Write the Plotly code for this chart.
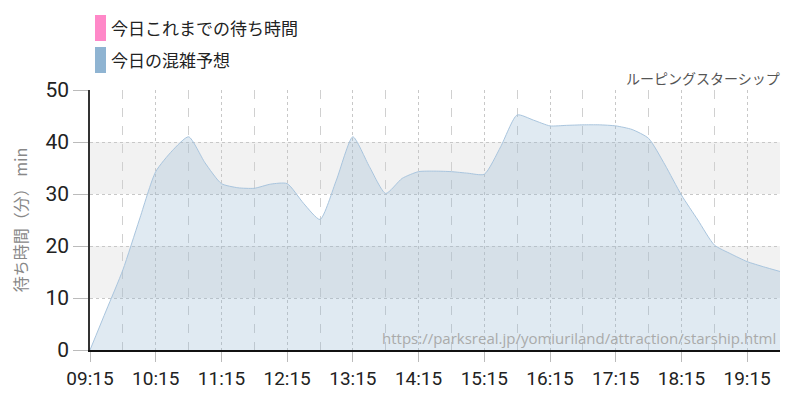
import plotly.graph_objects as go

times = ["09:15","09:30","09:45","10:00","10:15","10:30","10:45","11:00","11:15","11:30","11:45","12:00",
         "12:15","12:30","12:45","13:00","13:15","13:30","13:45","14:00","14:15","14:30","14:45","15:00",
         "15:15","15:30","15:45","16:00","16:15","16:30","16:45","17:00","17:15","17:30","17:45","18:00",
         "18:15","18:30","18:45","19:00","19:15","19:30","19:45"]
forecast = [0, 7.7, 15.4, 25, 34.3, 38.3, 41, 36.0, 32, 31.2, 31.1, 31.9,
            32, 28.2, 25.1, 32.7, 41, 35.3, 30.1, 33, 34.3, 34.4, 34.3, 34,
            33.8, 39.1, 45.2, 44.2, 43.1, 43.2, 43.3, 43.3, 43.1, 42.4, 40.7, 35.6,
            29.8, 25, 20.2, 18.5, 17, 16, 15.1]
tick_labels = ["09:15","10:15","11:15","12:15","13:15","14:15","15:15","16:15","17:15","18:15","19:15"]
legend_labels = ["今日これまでの待ち時間", "今日の混雑予想"]
legend_colors = ["#ff88c8", "#8fb4d2"]
title_text = "ルーピングスターシップ"
url_text = "https://parksreal.jp/yomiuriland/attraction/starship.html"
y_title = "待ち時間（分） min"

day = "2024-01-01 "
xs = [day + t for t in times]

fig = go.Figure()
fig.add_trace(go.Scatter(
    x=xs, y=forecast, mode="lines", line=dict(color="#a9c5de", width=1, shape="spline", smoothing=0.6),
    fill="tozeroy", fillcolor="rgba(143,180,210,0.28)", showlegend=False, hoverinfo="skip"))

font_num = "Roboto, sans-serif"
font_jp = "Noto Sans CJK JP, sans-serif"

# the page body has an 8px margin; plot area on the page is x 90..780, y 90..350
fig.update_layout(
    width=800, height=400,
    margin=dict(l=82, r=28, t=82, b=58, autoexpand=False),
    paper_bgcolor="white", plot_bgcolor="white",
    showlegend=False,
    xaxis=dict(
        type="date", range=[day + "09:15", day + "19:45"],
        tickvals=[day + t for t in tick_labels], ticktext=tick_labels,
        tickfont=dict(family=font_num, size=19, color="#222"),
        ticks="outside", ticklen=10, tickcolor="#bbb", tickwidth=1,
        showgrid=True, gridcolor="#c8c8c8", griddash="dot", gridwidth=1,
        minor=dict(dtick=60 * 60 * 1000, tick0=day + "09:45", showgrid=True,
                   gridcolor="#d0d0d0", griddash="dash", gridwidth=1, ticks=""),
        showline=True, linecolor="#111", linewidth=2, zeroline=False, automargin=False,
    ),
    yaxis=dict(
        range=[0, 50], dtick=10, tick0=0,
        tickfont=dict(family=font_num, size=21, color="#222"),
        ticks="outside", ticklen=15, tickcolor="#bbb", tickwidth=1,
        showgrid=True, gridcolor="#c8c8c8", griddash="dot", gridwidth=1,
        showline=True, linecolor="#333", linewidth=1.5, zeroline=False, automargin=False,
        title=dict(text=y_title, font=dict(family=font_jp, size=16, color="#888"), standoff=14),
    ),
)

def px_x(X):
    return (X - 90) / 690

def px_y(Y):
    return (350 - Y) / 260

for lo, hi in [(10, 20), (30, 40)]:
    fig.add_shape(type="rect", xref="paper", yref="y", x0=0, x1=1, y0=lo, y1=hi,
                  fillcolor="#f2f2f2", line=dict(width=0), layer="below")

for i, (lab, col) in enumerate(zip(legend_labels, legend_colors)):
    top = 15 + i * 32
    fig.add_shape(type="rect", xref="paper", yref="paper",
                  x0=px_x(95), x1=px_x(106), y0=px_y(top + 26), y1=px_y(top),
                  fillcolor=col, line=dict(width=0))
    fig.add_annotation(text=lab, xref="paper", yref="paper", x=px_x(109),
                       y=px_y(top + 13), xanchor="left", yanchor="middle",
                       showarrow=False, font=dict(family=font_jp, size=17, color="#222"))

fig.add_annotation(text=title_text, xref="paper", yref="paper", x=px_x(782), y=px_y(78),
                   xanchor="right", yanchor="middle", showarrow=False,
                   font=dict(family=font_jp, size=14, color="#555"))
fig.add_annotation(text=url_text, xref="paper", yref="paper", x=px_x(778), y=px_y(338),
                   xanchor="right", yanchor="middle", showarrow=False,
                   font=dict(family="Open Sans, sans-serif", size=15, color="#aaa"))

fig.write_html("out.html")
